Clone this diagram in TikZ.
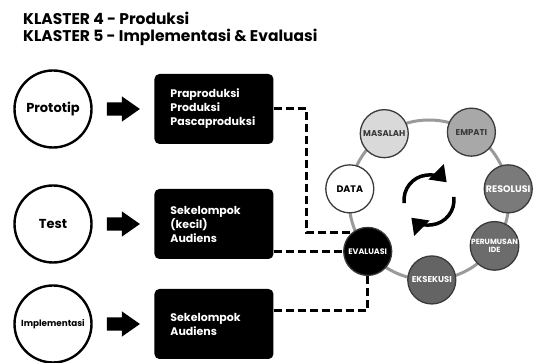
\documentclass[tikz,border=0pt]{standalone}
\usepackage{fontspec}
\setmainfont{Poppins}
\usetikzlibrary{positioning,shapes,arrows,arrows.meta,calc}
\def\dx{14pt}
\def\rr{80}
\definecolor{ringgray}{HTML}{9A9A9A}
\definecolor{edgegray}{HTML}{3A3A3A}
\definecolor{toneA}{HTML}{D9D9D9}
\definecolor{toneB}{HTML}{A8A8A8}
\definecolor{toneC}{HTML}{7A7A7A}
\definecolor{toneD}{HTML}{6C6C6C}
\definecolor{toneE}{HTML}{646464}
\tikzstyle{phase}=[draw,circle,line width=2.4pt,minimum size=77pt,inner sep=0pt,font=\bfseries\fontsize{13}{15}\selectfont]
\tikzstyle{push}=[single arrow,fill=black,minimum height=33pt,single arrow head extend=6pt,single arrow tip angle=70,inner xsep=0pt,inner ysep=6.5pt]
\tikzstyle{outbox}=[fill=black,rounded corners=5pt,minimum height=70pt,text width=87pt,inner xsep=16pt,align=left,text=white,font=\bfseries\fontsize{11}{14}\selectfont]
\tikzstyle{stage}=[draw=edgegray,circle,line width=1.3pt,minimum size=48pt,inner sep=0pt,align=center,font=\bfseries\fontsize{8.5}{9}\selectfont]
\tikzstyle{dashlink}=[line width=3pt,dash pattern=on 8pt off 4pt]
\tikzstyle{turn}=[line width=3.5pt,-{Triangle[length=15pt,width=21pt]}]
\newcommand{\newStage}[4]{\node[stage,#4] (#1) at ([shift={(#3:\rr)}]ring) {#2};}

\begin{document}
\begin{tikzpicture}[x=1pt,y=1pt,node distance=\dx]
  \useasboundingbox (0,0) rectangle (534,363);
  % judul
  \node[anchor=north west,inner sep=0pt,align=left,
    font=\bfseries\fontsize{15.5}{17}\selectfont] (title) at (23,351)
    {KLASTER 4 - Produksi\\KLASTER 5 - Implementasi \& Evaluasi};
  % tahap kiri
  \node[phase] (proto) at (53,254) {Prototip};
  \node[phase] (test) at (53,139) {Test};
  \node[phase,font=\bfseries\fontsize{8.8}{10}\selectfont] (impl) at (53,39) {Implementasi};
  \node[push,right=of proto] (a1) {};
  \node[push,right=of test] (a2) {};
  \node[push,right=of impl] (a3) {};
  \node[outbox,right=of a1] (box1) {Praproduksi\\Produksi\\Pascaproduksi};
  \node[outbox,right=of a2] (box2) {Sekelompok\\(kecil)\\Audiens};
  \node[outbox,right=of a3] (box3) {Sekelompok\\Audiens};
  % siklus
  \coordinate (ring) at (429,163);
  \draw[ringgray,line width=3pt] (ring) circle[radius=\rr];
  \newStage{data}{DATA}{172}{fill=white,font=\bfseries\fontsize{9.5}{10}\selectfont}
  \newStage{masalah}{MASALAH}{124}{fill=toneA,text=edgegray}
  \newStage{empati}{EMPATI}{58}{fill=toneB,text=edgegray}
  \newStage{resolusi}{RESOLUSI}{8}{fill=toneC,text=white,font=\bfseries\fontsize{9.5}{10}\selectfont}
  \newStage{perumusan}{PERUMUSAN\\IDE}{-35}{fill=toneD,text=white,font=\bfseries\fontsize{7.5}{8}\selectfont}
  \newStage{eksekusi}{EKSEKUSI}{-88}{fill=toneE,text=white}
  \newStage{evaluasi}{EVALUASI}{-140}{fill=black,text=white,font=\bfseries\fontsize{8}{9}\selectfont}
  \draw[turn] ([shift={(187:25)}]ring) arc[start angle=187,end angle=45,radius=25];
  \draw[turn] ([shift={(7:25)}]ring) arc[start angle=7,end angle=-135,radius=25];
  % garis putus
  \draw[dashlink] (box1.east) -| ([xshift=-45pt]evaluasi.130) -- (evaluasi.130);
  \draw[dashlink] (box2.east |- evaluasi.west) -- (evaluasi.west);
  \draw[dashlink] (evaluasi.south) |- ([yshift=-22pt]box3.north east);
\end{tikzpicture}
\end{document}
